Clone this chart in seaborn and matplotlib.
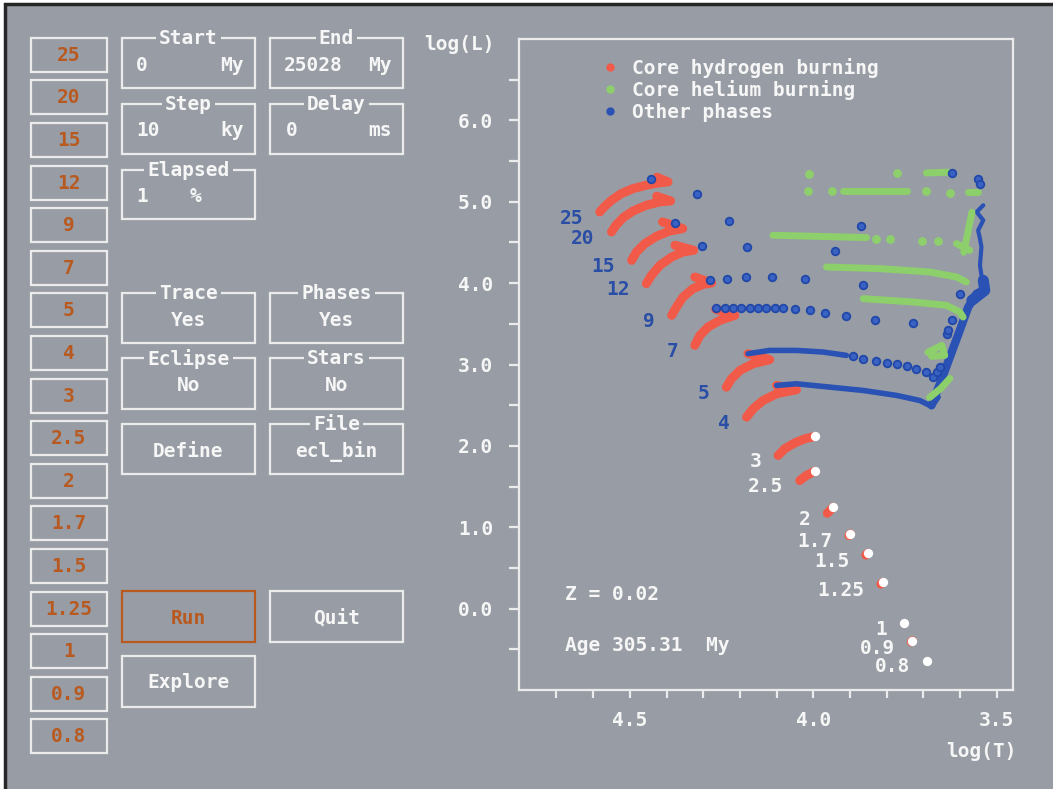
import matplotlib
matplotlib.use("Agg")
import matplotlib.pyplot as plt
from matplotlib.patches import Rectangle
from matplotlib.lines import Line2D
import seaborn as sns
import pandas as pd

# ---------------- evolutionary track data (log T, log L) ----------------
MASSES = [25, 20, 15, 12, 9, 7, 5, 4, 3, 2.5, 2, 1.7, 1.5, 1.25, 1, 0.9, 0.8]

# core hydrogen burning segment of every track (ZAMS first, hook at the end)
H_LOGT = [
    [4.582, 4.568, 4.550, 4.523, 4.491, 4.455, 4.423, 4.396, 4.426],
    [4.550, 4.538, 4.518, 4.491, 4.455, 4.418, 4.389, 4.427],
    [4.495, 4.482, 4.459, 4.427, 4.391, 4.356, 4.411],
    [4.455, 4.441, 4.418, 4.386, 4.355, 4.326, 4.377],
    [4.386, 4.373, 4.355, 4.328, 4.300, 4.277, 4.323],
    [4.323, 4.309, 4.287, 4.255, 4.214, 4.266],
    [4.237, 4.223, 4.200, 4.164, 4.119, 4.178],
    [4.182, 4.164, 4.137, 4.100, 4.046, 4.100],
    [4.096, 4.078, 4.050, 4.023, 3.996],
    [4.037, 4.019, 3.996],
    [3.962, 3.946],
    [3.903, 3.899],
    [3.857, 3.852],
    [3.816, 3.811],
    [3.753],
    [3.733, 3.730],
    [3.690],
]
H_LOGL = [
    [4.875, 4.945, 5.018, 5.101, 5.162, 5.203, 5.231, 5.244, 5.301],
    [4.629, 4.711, 4.806, 4.887, 4.957, 4.998, 5.010, 5.068],
    [4.280, 4.383, 4.486, 4.576, 4.641, 4.670, 4.752],
    [3.994, 4.096, 4.219, 4.321, 4.383, 4.403, 4.465],
    [3.604, 3.706, 3.829, 3.932, 3.985, 4.001, 4.075],
    [3.235, 3.358, 3.460, 3.542, 3.604, 3.678],
    [2.722, 2.825, 2.927, 3.010, 3.059, 3.133],
    [2.353, 2.456, 2.558, 2.641, 2.690, 2.743],
    [1.882, 1.964, 2.038, 2.087, 2.116],
    [1.574, 1.636, 1.689],
    [1.172, 1.246],
    [0.898, 0.919],
    [0.658, 0.680],
    [0.301, 0.323],
    [-0.176],
    [-0.410, -0.394],
    [-0.640],
]

# stars still on the main sequence at the displayed age
CURRENT_MASSES = [3, 2.5, 2, 1.7, 1.5, 1.25, 1, 0.9, 0.8]

# other phases: densely sampled stretches (gap crossings, giant branches)
OTHER_LINE_T = [
    [4.178, 4.119, 4.045, 3.973, 3.910],
    [4.100, 4.046, 3.955, 3.864, 3.773, 3.710, 3.683, 3.669, 3.660],
    [3.678, 3.655, 3.628, 3.601, 3.578, 3.555, 3.537],
    [3.568, 3.533, 3.537],
    [3.537, 3.555, 3.537, 3.551, 3.546, 3.542, 3.546, 3.538],
]
OTHER_LINE_L = [
    [3.133, 3.173, 3.173, 3.153, 3.112],
    [2.743, 2.763, 2.722, 2.681, 2.620, 2.558, 2.497, 2.538, 2.599],
    [2.497, 2.763, 3.091, 3.419, 3.706, 3.871, 3.911],
    [3.788, 3.911, 4.034],
    [4.957, 4.874, 4.772, 4.649, 4.547, 4.444, 4.219, 3.973],
]
OTHER_LINE_W = [4.0, 4.0, 6.0, 8.0, 3.0]

# other phases: isolated time steps
OTHER_DOT_T = [4.441, 4.318, 4.377, 4.229, 4.303, 4.180, 4.282, 4.234, 4.184,
               4.112, 4.023, 3.871, 3.941, 3.866, 3.623, 3.601, 3.551, 3.546,
               4.264, 4.241, 4.219, 4.196, 4.173, 4.150, 4.128, 4.105, 4.082,
               4.050, 4.010, 3.969, 3.911, 3.831, 3.728,
               3.892, 3.864, 3.828, 3.800, 3.773, 3.746, 3.719, 3.692, 3.674,
               3.664, 3.655, 3.637, 3.633, 3.623]
OTHER_DOT_L = [5.285, 5.101, 4.739, 4.760, 4.453, 4.444, 4.034, 4.055, 4.075,
               4.075, 4.055, 4.699, 4.391, 3.973, 5.354, 3.871, 5.285, 5.224,
               3.690, 3.690, 3.700, 3.700, 3.700, 3.700, 3.700, 3.700, 3.700,
               3.685, 3.665, 3.629, 3.592, 3.551, 3.509,
               3.100, 3.071, 3.042, 3.022, 3.010, 2.977, 2.948, 2.906, 2.845,
               2.906, 2.968, 3.379, 3.419, 3.542]

# core helium burning: dense stretches
HE_LINE_T = [
    [3.692, 3.634],
    [3.919, 3.746],
    [3.578, 3.551],
    [4.110, 4.001, 3.855],
    [3.610, 3.592, 3.574],
    [3.964, 3.819, 3.683, 3.610, 3.583],
    [3.864, 3.728, 3.637, 3.601, 3.592],
    [3.688, 3.650, 3.642, 3.678],
    [3.683, 3.653, 3.628],
    [3.568, 3.579, 3.590],
]
HE_LINE_L = [
    [5.354, 5.363],
    [5.133, 5.133],
    [5.121, 5.121],
    [4.588, 4.576, 4.560],
    [4.486, 4.444, 4.403],
    [4.198, 4.178, 4.137, 4.075, 4.014],
    [3.809, 3.768, 3.727, 3.645, 3.583],
    [3.149, 3.235, 3.112, 3.100],
    [2.595, 2.706, 2.829],
    [4.871, 4.625, 4.379],
]
# core helium burning: isolated time steps
HE_DOT_T = [4.012, 3.773, 4.014, 3.950, 3.692, 3.628, 3.828, 3.792, 3.705, 3.660]
HE_DOT_L = [5.338, 5.354, 5.133, 5.133, 5.133, 5.113, 4.547, 4.547, 4.518, 4.518]

PHASE_LABELS = ["Core hydrogen burning", "Core helium burning", "Other phases"]

BUTTON_LABELS = ["25", "20", "15", "12", "9", "7", "5", "4", "3", "2.5", "2",
                 "1.7", "1.5", "1.25", "1", "0.9", "0.8"]

# ---------------- style ----------------
BG = "#989da5"
LINE = "#ebebeb"
WHITE = "#f6f6f6"
ORANGE = "#b85a20"
RED = "#f15a48"
GREEN = "#8dd06b"
BLUE = "#2a52b4"
LABEL_BLUE = "#2a4ea6"
FS = 14
FW = "bold"

sns.set_theme(style="ticks", rc={"axes.facecolor": BG, "figure.facecolor": "white"})
plt.rcParams["font.family"] = ["DejaVu Sans Mono", "DejaVu Sans"]
plt.rcParams["font.weight"] = FW
plt.rcParams["font.size"] = FS

fig = plt.figure(figsize=(10.53, 7.89), dpi=100, facecolor="white")

# ---------------- control panel (pixel layout) ----------------
ui = fig.add_axes([0, 0, 1, 1])
ui.set_xlim(0, 1053)
ui.set_ylim(789, 0)
ui.axis("off")
ui.add_patch(Rectangle((5, 4), 1100, 850, facecolor=BG, edgecolor="#262626", lw=2.5))


def panel_box(x0, y0, x1, y1, title=None, left=None, right=None, center=None,
              text_y=None, edge=LINE, tcolor=WHITE, left_x=None, right_x=None):
    ui.add_patch(Rectangle((x0, y0), x1 - x0, y1 - y0, fill=False, ec=edge, lw=1.6))
    ty = text_y if text_y is not None else (y0 + y1) / 2 + 1
    if title:
        ui.text((x0 + x1) / 2, y0 + 0.5, title, ha="center", va="center", color=WHITE,
                fontsize=FS, fontweight=FW,
                bbox=dict(boxstyle="square,pad=0.15", fc=BG, ec="none"))
    if left is not None:
        ui.text(left_x if left_x else x0 + 14, ty, left, ha="left", va="center",
                color=tcolor, fontsize=FS, fontweight=FW)
    if right is not None:
        ui.text(right_x if right_x else x1 - 11, ty, right, ha="right", va="center",
                color=tcolor, fontsize=FS, fontweight=FW)
    if center is not None:
        ui.text((x0 + x1) / 2, ty, center, ha="center", va="center", color=tcolor,
                fontsize=FS, fontweight=FW)


for i, lab in enumerate(BUTTON_LABELS):
    y0 = 37.7 + 42.6 * i
    ui.add_patch(Rectangle((31, y0), 76, 34, fill=False, ec=LINE, lw=1.6))
    ui.text(69, y0 + 17.5, lab, ha="center", va="center", color=ORANGE,
            fontsize=FS, fontweight=FW)

panel_box(122, 38, 255, 88, "Start", "0", "My", text_y=65)
panel_box(270, 38, 403, 88, "End", "25028", "My", text_y=65, left_x=284)
panel_box(122, 104, 255, 154, "Step", "10", "ky", text_y=130)
panel_box(270, 104, 403, 154, "Delay", "0", "ms", text_y=130, left_x=286)
panel_box(122, 170, 255, 219, "Elapsed", "1", "%", text_y=196, right_x=201)
panel_box(122, 293, 255, 343, "Trace", center="Yes", text_y=320)
panel_box(270, 293, 403, 343, "Phases", center="Yes", text_y=320)
panel_box(122, 358, 255, 409, "Eclipse", center="No", text_y=385)
panel_box(270, 358, 403, 409, "Stars", center="No", text_y=385)
panel_box(122, 424, 255, 474, center="Define", text_y=451)
panel_box(270, 424, 403, 474, "File", center="ecl_bin", text_y=451)
panel_box(122, 591, 255, 642, center="Run", text_y=618, edge=ORANGE, tcolor=ORANGE)
panel_box(270, 591, 403, 642, center="Quit", text_y=618)
panel_box(122, 656, 255, 707, center="Explore", text_y=683)

# ---------------- HR diagram ----------------
ax = fig.add_axes([519 / 1053, 1 - 690 / 789, 494 / 1053, 651 / 789])
ax.set_facecolor(BG)

# main-sequence (core hydrogen burning) stretches
for tx, ly in zip(H_LOGT, H_LOGL):
    if len(tx) > 1:
        sns.lineplot(x=tx, y=ly, sort=False, estimator=None, ax=ax, color=RED,
                     linewidth=6.5, solid_capstyle="round", legend=False, zorder=2)

# dense stretches of the other phases
for tx, ly, w in zip(OTHER_LINE_T, OTHER_LINE_L, OTHER_LINE_W):
    sns.lineplot(x=tx, y=ly, sort=False, estimator=None, ax=ax, color=BLUE,
                 linewidth=w, solid_capstyle="round", legend=False, zorder=3)

# core helium burning
for tx, ly in zip(HE_LINE_T, HE_LINE_L):
    sns.lineplot(x=tx, y=ly, sort=False, estimator=None, ax=ax, color=GREEN,
                 linewidth=5, solid_capstyle="round", legend=False, zorder=4)
he_dots = pd.DataFrame({"logT": HE_DOT_T, "logL": HE_DOT_L})
sns.scatterplot(data=he_dots, x="logT", y="logL", ax=ax, color=GREEN, s=40,
                edgecolor=GREEN, linewidth=0, zorder=4, legend=False)

# isolated time steps of other phases
other_dots = pd.DataFrame({"logT": OTHER_DOT_T, "logL": OTHER_DOT_L})
sns.scatterplot(data=other_dots, x="logT", y="logL", ax=ax, color="#3a62c2", s=30,
                edgecolor="#2148a8", linewidth=1.3, zorder=5, legend=False)

# current positions of the stars still burning hydrogen
cur_t = [H_LOGT[MASSES.index(m)][-1] for m in CURRENT_MASSES]
cur_l = [H_LOGL[MASSES.index(m)][-1] for m in CURRENT_MASSES]
sns.scatterplot(x=cur_t, y=cur_l, ax=ax, color="white", s=45, edgecolor="white",
                linewidth=0, zorder=6, legend=False)

# mass labels beside each zero-age point
for m, tx, ly in zip(MASSES, H_LOGT, H_LOGL):
    col = WHITE if m in CURRENT_MASSES else LABEL_BLUE
    ax.annotate(f"{m:g}", xy=(tx[0], ly[0]), xytext=(-12, -4.5),
                textcoords="offset points", ha="right", va="center",
                color=col, fontsize=FS, fontweight=FW, zorder=7)

ax.text(0.093, 0.146, "Z = 0.02", transform=ax.transAxes, color=WHITE,
        fontsize=FS, fontweight=FW, va="center")
ax.text(0.093, 0.069, "Age 305.31  My", transform=ax.transAxes, color=WHITE,
        fontsize=FS, fontweight=FW, va="center")

# axes, ticks and labels
ax.set_xlim(4.802, 3.456)
ax.set_ylim(-1.0, 7.0)
ax.set_xticks([4.5, 4.0, 3.5])
ax.set_xticks([4.7, 4.6, 4.4, 4.3, 4.2, 4.1, 3.9, 3.8, 3.7, 3.6], minor=True)
ax.set_yticks([0, 1, 2, 3, 4, 5, 6])
ax.set_yticks([-0.5, 0.5, 1.5, 2.5, 3.5, 4.5, 5.5, 6.5], minor=True)
ax.set_xticklabels(["4.5", "4.0", "3.5"], fontweight=FW)
ax.set_yticklabels([f"{v:.1f}" for v in [0, 1, 2, 3, 4, 5, 6]], fontweight=FW)
ax.tick_params(axis="both", which="both", direction="out", color=LINE, width=1.6,
               labelcolor=WHITE, labelsize=FS)
ax.tick_params(axis="x", which="both", length=6, pad=9)
ax.tick_params(axis="y", which="both", length=7.5, pad=11)
for sp in ax.spines.values():
    sp.set_visible(True)
    sp.set_color(LINE)
    sp.set_linewidth(1.6)

ax.set_ylabel("log(L)", rotation=0, ha="right", va="center", color=WHITE,
              fontsize=FS, fontweight=FW)
ax.yaxis.set_label_coords(-0.049, 0.992)
ax.set_xlabel("log(T)", ha="right", va="center", color=WHITE,
              fontsize=FS, fontweight=FW)
ax.xaxis.set_label_coords(1.008, -0.094)

handles = [Line2D([0], [0], marker="o", ls="", markersize=5,
                  markerfacecolor=c, markeredgecolor=c) for c in (RED, GREEN, BLUE)]
leg = ax.legend(handles, PHASE_LABELS, loc="upper left", bbox_to_anchor=(0.1676, 0.971),
                frameon=False, handlelength=0.8, handletextpad=0.75, labelspacing=0.12,
                borderpad=0, borderaxespad=0,
                prop={"family": "DejaVu Sans Mono", "weight": FW, "size": FS})
for t in leg.get_texts():
    t.set_color(WHITE)

fig.savefig("out.png", dpi=100, facecolor=fig.get_facecolor())
